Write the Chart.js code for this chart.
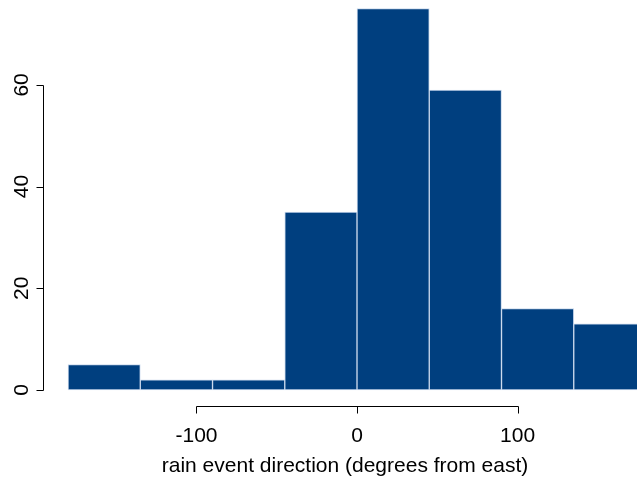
<!DOCTYPE html>
<html>
<head>
<meta charset="utf-8">
<script src="https://cdn.jsdelivr.net/npm/chart.js@4/dist/chart.umd.min.js"></script>
<style>
  html, body { margin: 0; padding: 0; background: #fff; }
  #wrap { width: 637px; height: 482px; }
</style>
</head>
<body>
<div id="wrap"><canvas id="hist"></canvas></div>
<script>
// histogram bins (degrees from east), width 45
const binStarts = [-180, -135, -90, -45, 0, 45, 90, 135];
const binWidth = 45;
const counts = [5, 2, 2, 35, 75, 59, 16, 13];
const xTicks = [-100, 0, 100];
const yTicks = [0, 20, 40, 60];
const xTitle = 'rain event direction (degrees from east)';

const barColor = '#003f7f';
const edgeColor = '#c9d8ec';
const font = '21px "Liberation Sans", Arial, sans-serif';

// R style axes drawn from the chart scales
const rAxes = {
  id: 'rAxes',
  afterDraw(chart) {
    const ctx = chart.ctx;
    const x = chart.scales.x, y = chart.scales.y;
    const area = chart.chartArea;
    ctx.save();
    ctx.strokeStyle = '#000';
    ctx.fillStyle = '#000';
    ctx.lineWidth = 1;
    ctx.font = font;

    // x axis
    const ax = area.bottom + 0.5;
    const x0 = Math.round(x.getPixelForValue(xTicks[0])) + 0.5;
    const x1 = Math.round(x.getPixelForValue(xTicks[xTicks.length - 1])) + 0.5;
    ctx.beginPath();
    ctx.moveTo(x0, ax); ctx.lineTo(x1, ax);
    xTicks.forEach(v => {
      const px = Math.round(x.getPixelForValue(v)) + 0.5;
      ctx.moveTo(px, ax); ctx.lineTo(px, ax + 7);
    });
    ctx.stroke();
    ctx.textAlign = 'center';
    ctx.textBaseline = 'middle';
    xTicks.forEach(v => {
      ctx.fillText(String(v), x.getPixelForValue(v), ax + 30);
    });
    ctx.fillText(xTitle, 345, ax + 60);

    // y axis
    const ay = area.left + 0.5;
    const y0 = Math.round(y.getPixelForValue(yTicks[0])) + 0.5;
    const y1 = Math.round(y.getPixelForValue(yTicks[yTicks.length - 1])) + 0.5;
    ctx.beginPath();
    ctx.moveTo(ay, y0); ctx.lineTo(ay, y1);
    yTicks.forEach(v => {
      const py = Math.round(y.getPixelForValue(v)) + 0.5;
      ctx.moveTo(ay, py); ctx.lineTo(ay - 7, py);
    });
    ctx.stroke();
    yTicks.forEach(v => {
      const py = y.getPixelForValue(v);
      ctx.save();
      ctx.translate(ay - 21, py);
      ctx.rotate(-Math.PI / 2);
      ctx.fillText(String(v), 0, 0);
      ctx.restore();
    });
    ctx.restore();
  }
};

new Chart(document.getElementById('hist'), {
  type: 'bar',
  data: {
    datasets: [{
      data: binStarts.map((s, i) => ({ x: s + binWidth / 2, y: counts[i] })),
      backgroundColor: barColor,
      borderColor: edgeColor,
      borderWidth: 1,
      borderSkipped: false,
      barPercentage: 1,
      categoryPercentage: 1
    }]
  },
  options: {
    responsive: true,
    maintainAspectRatio: false,
    animation: false,
    layout: { padding: { left: 43, right: 0, top: 0, bottom: 76 } },
    plugins: { legend: { display: false }, tooltip: { enabled: false } },
    scales: {
      x: { type: 'linear', min: -195.6, max: 174.4, offset: false, display: false },
      y: { min: -3.15, max: 76.7, display: false }
    }
  },
  plugins: [rAxes]
});
</script>
</body>
</html>
